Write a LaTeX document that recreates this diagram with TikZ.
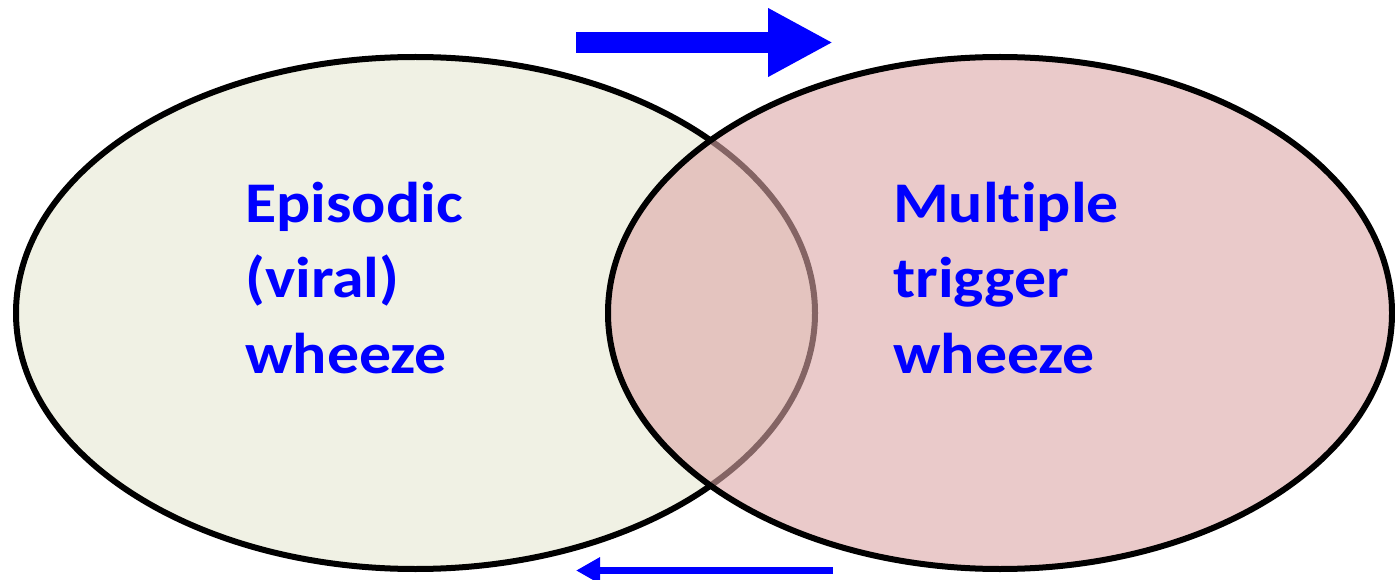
\documentclass[tikz,border=0pt]{standalone}
\usepackage{fontspec}
\setmainfont{Carlito}[FakeStretch=1.11,Ligatures=NoCommon]
\usetikzlibrary{arrows.meta,shapes.geometric}
\definecolor{lfill}{RGB}{240,241,228}
\definecolor{rfill}{RGB}{220,167,167}
\definecolor{tblue}{RGB}{0,0,255}
\tikzset{
  oval/.style={ellipse, draw=black, line width=6pt, inner sep=0pt},
  lab/.style={anchor=base west, inner sep=0pt, align=left, text=tblue,
    font=\bfseries\fontsize{57.5}{75.5}\selectfont},
  bigarrow/.style={draw=tblue, line width=21pt, -{Triangle[length=65pt,width=64pt]}},
  smallarrow/.style={draw=tblue, line width=7.5pt, -{Triangle[length=24pt,width=25pt]}}
}
\begin{document}
\begin{tikzpicture}[x=1pt,y=-1pt]
\useasboundingbox[fill=white] (0,0) rectangle (1395,580);
\node[oval, fill=lfill, minimum width=799pt, minimum height=512pt] (L) at (415.5,313) {};
\node[oval, fill=rfill, fill opacity=0.6, draw opacity=1, minimum width=784pt, minimum height=512pt] (R) at (1000,313) {};
\node[lab] (tl) at (245,373) {Episodic\\(viral)\\wheeze};
\node[lab] (tr) at (893,373) {Mult\kern0pt iple\\trigger\\wheeze};
\coordinate (a1) at (576,42.5);
\coordinate (a2) at (833,42.5);
\draw[bigarrow] (a1) -- (a2);
\coordinate (b1) at (833,570.5);
\coordinate (b2) at (576,570.5);
\draw[smallarrow] (b1) -- (b2);
\end{tikzpicture}
\end{document}
